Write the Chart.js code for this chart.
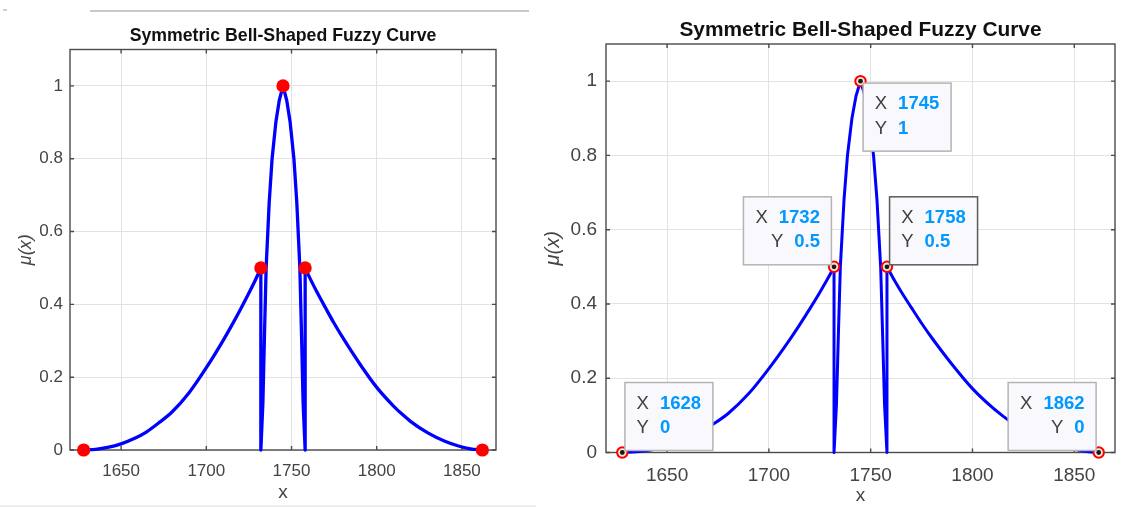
<!DOCTYPE html>
<html><head><meta charset="utf-8">
<script src="https://cdn.jsdelivr.net/npm/chart.js@4.4.1/dist/chart.umd.min.js"></script>
<style>
html,body{margin:0;padding:0;background:#fff;}
body{width:1137px;height:507px;position:relative;overflow:hidden;}
canvas{position:absolute;top:0;}
#cL{left:0;} #cR{left:540px;}
.deco{position:absolute;}
</style></head><body>
<div class="deco" style="left:90px;top:10px;width:439px;height:1.5px;background:#c9c9c9"></div>
<div class="deco" style="left:3px;top:9px;width:4px;height:2px;background:#d0d0d0"></div>
<div class="deco" style="left:0;top:505px;width:536px;height:2px;background:#eeeeee"></div>
<canvas id="cL" width="540" height="507"></canvas>
<canvas id="cR" width="597" height="507"></canvas>
<script>
// ---------- data ----------
const titleText = 'Symmetric Bell-Shaped Fuzzy Curve';
const xAxisLabel = 'x';
const yAxisLabel = 'μ(x)';
// left tail (rising branch)
const leftTailX = [1628, 1635, 1642, 1650, 1658, 1665, 1672, 1680, 1690, 1700, 1710, 1715, 1720, 1725, 1729, 1732];
const leftTailY = [0, 0.002, 0.007, 0.017, 0.032, 0.05, 0.074, 0.105, 0.158, 0.226, 0.302, 0.343, 0.386, 0.431, 0.469, 0.5];
// central core (with the two vertical drops)
const coreX = [1732, 1732, 1733.2, 1734.1, 1735.1, 1736.9, 1738.6, 1740.8, 1742.8, 1745, 1747.2, 1749.2, 1751.4, 1753.1, 1754.9, 1755.9, 1756.8, 1758, 1758];
const coreY = [0.5, 0, 0.13, 0.31, 0.5, 0.68, 0.8, 0.9, 0.96, 1, 0.96, 0.9, 0.8, 0.68, 0.5, 0.31, 0.13, 0, 0.5];
// right tail (falling branch)
const rightTailX = [1758, 1761, 1765, 1770, 1775, 1780, 1790, 1800, 1810, 1815, 1820, 1830, 1840, 1848, 1855, 1862];
const rightTailY = [0.5, 0.47, 0.433, 0.39, 0.348, 0.309, 0.237, 0.172, 0.12, 0.098, 0.078, 0.047, 0.024, 0.011, 0.003, 0];
const keyX = [1628, 1732, 1745, 1758, 1862];
const keyY = [0, 0.5, 1, 0.5, 0];
const xTicks = [1650, 1700, 1750, 1800, 1850];
const xTickLabels = ['1650', '1700', '1750', '1800', '1850'];
const yTicks = [0, 0.2, 0.4, 0.6, 0.8, 1];
const yTickLabels = ['0', '0.2', '0.4', '0.6', '0.8', '1'];
const xRange = [1620, 1870];
const yRange = [0, 1.1];

// ---------- styling ----------
const FONT = "'Liberation Sans', Arial, Helvetica, sans-serif";
const tipCorner = ['ne', 'nw', 'se', 'ne', 'nw'];
const tipEmph = [false, false, false, true, false];

const pts = (xs, ys) => xs.map((x, i) => ({x, y: ys[i]}));
const keyPts = pts(keyX, keyY);

const frame = {
  id: 'frame',
  beforeDatasetsDraw(chart, a, o) {
    const {ctx, chartArea: c} = chart;
    const xs = chart.scales.x, ys = chart.scales.y;
    ctx.save();
    ctx.strokeStyle = o.color; ctx.lineWidth = o.width;
    ctx.strokeRect(c.left, c.top, c.right - c.left, c.bottom - c.top);
    ctx.beginPath();
    xTicks.forEach(v => {
      const p = xs.getPixelForValue(v);
      ctx.moveTo(p, c.bottom); ctx.lineTo(p, c.bottom - o.tick);
      ctx.moveTo(p, c.top); ctx.lineTo(p, c.top + o.tick);
    });
    yTicks.forEach(v => {
      const p = ys.getPixelForValue(v);
      ctx.moveTo(c.left, p); ctx.lineTo(c.left + o.tick, p);
      ctx.moveTo(c.right, p); ctx.lineTo(c.right - o.tick, p);
    });
    ctx.stroke();
    ctx.restore();
  },
  afterDraw(chart, a, o) {
    const {ctx, chartArea: c} = chart;
    const xs = chart.scales.x, ys = chart.scales.y;
    ctx.save();
    ctx.fillStyle = '#111';
    ctx.font = `bold ${o.titleSize}px ${FONT}`;
    ctx.textAlign = 'center'; ctx.textBaseline = 'alphabetic';
    ctx.fillText(titleText, (c.left + c.right) / 2, o.titleBaseline);
    if (o.tips) {
      const W = 88, H = 68, gx = 2.6, gy = 2;
      keyX.forEach((xv, i) => {
        const px = xs.getPixelForValue(xv), py = ys.getPixelForValue(keyY[i]);
        const cr = tipCorner[i];
        const left = cr[1] === 'e' ? px + gx : px - gx - W;
        const top = cr[0] === 'n' ? py - gy - H : py + gy;
        ctx.fillStyle = '#f8f8fd';
        ctx.fillRect(left, top, W, H);
        ctx.strokeStyle = tipEmph[i] ? '#5a5a5a' : '#b4b4b4';
        ctx.lineWidth = 1.5;
        ctx.strokeRect(left, top, W, H);
        const rows = [['X', String(xv)], ['Y', String(keyY[i])]];
        const fl = `${o.tipSize}px ${FONT}`, fv = `bold ${o.tipSize}px ${FONT}`;
        ctx.textBaseline = 'middle';
        rows.forEach((r, k) => {
          const yy = top + (k === 0 ? 21 : 45.5);
          if (cr[1] === 'e') {
            ctx.textAlign = 'left';
            ctx.font = fl; ctx.fillStyle = '#404040'; ctx.fillText(r[0], left + 11.7, yy);
            ctx.font = fv; ctx.fillStyle = '#0099ff'; ctx.fillText(r[1], left + 35, yy);
          } else {
            ctx.textAlign = 'right';
            const vr = left + W - 11.5;
            ctx.font = fv; ctx.fillStyle = '#0099ff'; ctx.fillText(r[1], vr, yy);
            const vw = ctx.measureText(r[1]).width;
            ctx.font = fl; ctx.fillStyle = '#404040'; ctx.fillText(r[0], vr - vw - 11, yy);
          }
        });
      });
    }
    ctx.restore();
  }
};

function makeChart(id, s) {
  const markerSets = s.tips ? [
    {data: keyPts, showLine: false, pointRadius: 2.4, pointBackgroundColor: '#1a1a1a', pointBorderWidth: 0, clip: false},
    {data: keyPts, showLine: false, pointRadius: 5.2, pointBackgroundColor: '#f2ecd6', pointBorderColor: '#ff0000', pointBorderWidth: 2, clip: false}
  ] : [
    {data: keyPts, showLine: false, pointRadius: 6.6, pointBackgroundColor: '#ff0000', pointBorderWidth: 0, clip: false}
  ];
  const lineBase = {showLine: true, borderColor: '#0000ff', borderWidth: s.lineW, pointRadius: 0, clip: false,
    borderJoinStyle: 'round', borderCapStyle: 'round'};
  return new Chart(document.getElementById(id), {
    type: 'scatter',
    data: {datasets: [...markerSets,
      {...lineBase, data: pts(leftTailX, leftTailY), cubicInterpolationMode: 'monotone'},
      {...lineBase, data: pts(coreX, coreY), tension: 0},
      {...lineBase, data: pts(rightTailX, rightTailY), cubicInterpolationMode: 'monotone'}]},
    options: {
      responsive: false, animation: false, events: [],
      layout: {padding: {left: 0, right: s.padR, top: s.padT, bottom: 0}},
      plugins: {legend: {display: false}, tooltip: {enabled: false},
        frame: {color: '#4a4a4a', width: 1.4, tick: 4, titleSize: s.titleSize, titleBaseline: s.titleBase, tips: s.tips, tipSize: 18.5}},
      scales: {
        x: {type: 'linear', min: xRange[0], max: xRange[1],
          afterBuildTicks: sc => { sc.ticks = xTicks.map(v => ({value: v})); },
          afterFit: sc => { sc.height = s.xH; },
          grid: {color: '#e2e2e2', lineWidth: 1, drawTicks: false},
          border: {display: false},
          ticks: {autoSkip: false, maxRotation: 0, padding: s.xPad, color: '#444444',
            font: {family: FONT, size: s.tickSize}, callback: (v, i) => xTickLabels[i]},
          title: {display: true, text: xAxisLabel, color: '#444444', font: {family: FONT, size: s.axSize},
            padding: {top: 0, bottom: s.xTitlePad}}
        },
        y: {type: 'linear', min: yRange[0], max: yRange[1],
          afterBuildTicks: sc => { sc.ticks = yTicks.map(v => ({value: v})); },
          afterFit: sc => { sc.width = s.yW; },
          grid: {color: '#e2e2e2', lineWidth: 1, drawTicks: false},
          border: {display: false},
          ticks: {autoSkip: false, padding: s.yPad, color: '#444444',
            font: {family: FONT, size: s.tickSize}, callback: (v, i) => yTickLabels[i]},
          title: {display: true, text: yAxisLabel, color: '#444444', font: {family: FONT, size: s.aySize, style: 'italic'},
            padding: {top: s.yTitlePad, bottom: 0}}
        }
      }
    },
    plugins: [frame]
  });
}

makeChart('cL', {tips: false, lineW: 3.3, padR: 44, padT: 49.5, xH: 57, yW: 70, xPad: 11, yPad: 7,
  tickSize: 17, axSize: 19, aySize: 18, xTitlePad: 3, yTitlePad: 15, titleSize: 17.7, titleBase: 41});
makeChart('cR', {tips: true, lineW: 3, padR: 22, padT: 44, xH: 54.5, yW: 66, xPad: 12, yPad: 9,
  tickSize: 19, axSize: 19, aySize: 20, xTitlePad: 0, yTitlePad: 1, titleSize: 20.9, titleBase: 36});
</script>
</body></html>
